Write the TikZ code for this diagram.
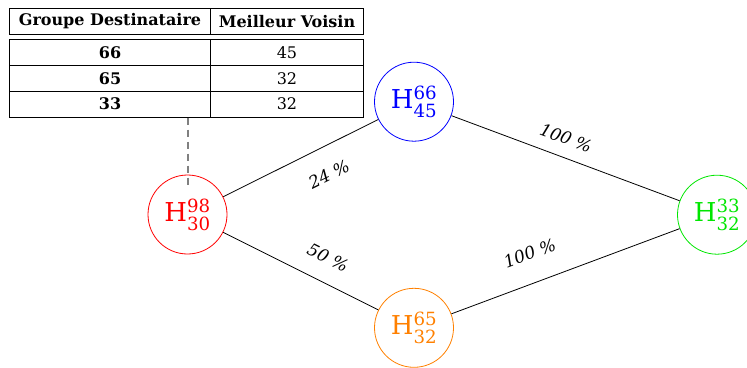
\documentclass[tikz,border=0pt]{standalone}
\usepackage{amsmath}
\usepackage{fontspec}
\setmainfont{DejaVu Serif}
\newcommand{\hostlabel}[2]{H$^{\text{#1}}_{\text{#2}}$}
\begin{document}
\begin{tikzpicture}[x=1pt,y=-1pt,
  cell/.style={draw=black,line width=0.8pt,inner sep=0pt,minimum height=26pt,
    font=\fontsize{16}{19}\selectfont},
  bcell/.style={cell,font=\fontsize{16}{19}\selectfont\bfseries},
  hnode/.style={circle,draw=#1,text=#1,line width=0.8pt,minimum size=79pt,inner sep=0pt,
    font=\fontsize{26}{30}\selectfont},
  link/.style={draw=black,line width=0.8pt},
  pct/.style={font=\fontsize{17}{20}\selectfont\itshape,inner sep=0pt},
  tether/.style={draw=gray,line width=2pt,dash pattern=on 7pt off 5pt}]
\useasboundingbox (0,0) rectangle (747,367);
% table
\node[bcell,minimum width=201.4pt] (h1) at (110,21.3) {Groupe Destinataire};
\node[bcell,minimum width=152.6pt] (h2) at (287,21.3) {Meilleur Voisin};
\node[bcell,minimum width=201.4pt] (a1) at (110,52.4) {66};
\node[cell,minimum width=152.6pt] (a2) at (287,52.4) {45};
\node[bcell,minimum width=201.4pt] (b1) at (110,78.3) {65};
\node[cell,minimum width=152.6pt] (b2) at (287,78.3) {32};
\node[bcell,minimum width=201.4pt] (c1) at (110,104) {33};
\node[cell,minimum width=152.6pt] (c2) at (287,104) {32};
% hosts
\definecolor{hgreen}{RGB}{0,230,0}
\definecolor{horange}{RGB}{255,128,0}
\node[hnode=red] (r) at (187.5,214.5) {\hostlabel{98}{30}};
\node[hnode=blue] (bl) at (414,101.7) {\hostlabel{66}{45}};
\node[hnode=hgreen] (g) at (717,214.7) {\hostlabel{33}{32}};
\node[hnode=horange] (o) at (414,327.8) {\hostlabel{65}{32}};
% tether
\coordinate (tf) at (187.5,117.5);
\coordinate (te) at (187.5,185);
\draw[tether] (tf) -- (te);
% links
\draw[link] (r) -- (bl);
\draw[link] (r) -- (o);
\draw[link] (bl) -- (g);
\draw[link] (o) -- (g);
% labels
\node[pct,rotate=26.5] (l1) at (329,174) {24 \%};
\node[pct,rotate=-26.6] (l2) at (328,257.5) {50 \%};
\node[pct,rotate=-20.45] (l3) at (566,138) {100 \%};
\node[pct,rotate=20.5] (l4) at (529.7,253) {100 \%};
\end{tikzpicture}
\end{document}
